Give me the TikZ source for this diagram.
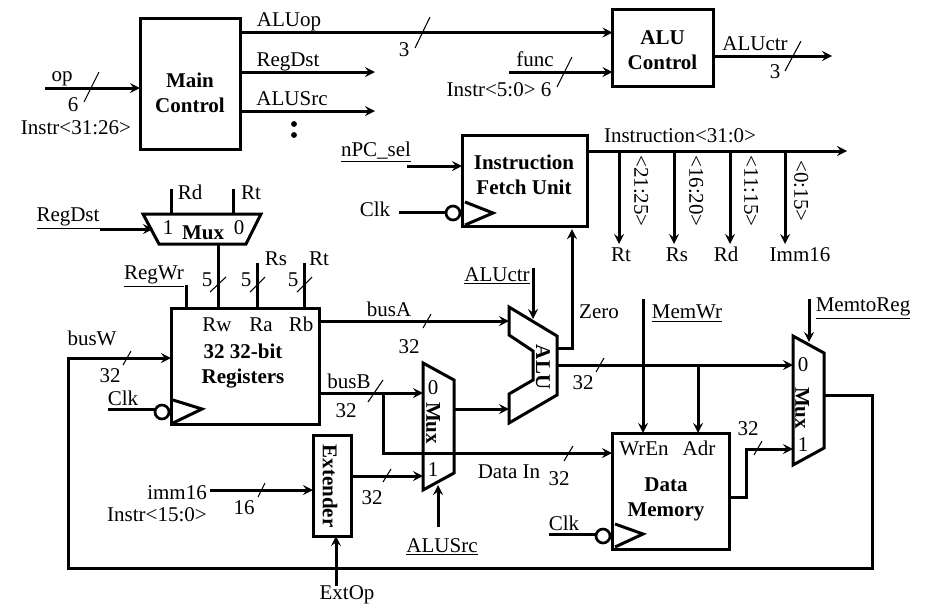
\documentclass[tikz,border=0pt]{standalone}
\usepackage{fontspec, tkz-euclide}
\setmainfont{Liberation Serif}
\tikzset{>=stealth}
\tikzset{wire/.style={line width=2.25pt, line join=miter},
  tick/.style={line width=0.8pt},
  lbl/.style={inner sep=0pt, outer sep=0pt, font=\fontsize{15.75}{18.75}\selectfont, text height=11.5pt, text depth=1.5pt},
  stacklbl/.style={inner sep=0pt, outer sep=0pt, font=\fontsize{15.75}{18.75}\selectfont, align=center},
  boldlbl/.style={stacklbl, font=\fontsize{15.75}{18.75}\selectfont\bfseries},
  blockbox/.style={draw, line width=2.25pt, inner sep=0pt, outer sep=0pt},
  bubble/.style={draw, circle, line width=2pt, inner sep=0pt, outer sep=0pt, minimum size=10.5pt}}

\begin{document}
\begin{tikzpicture}[x=0.75pt, y=-0.75pt]
\useasboundingbox (0,0) rectangle (930,604);
% blocks
\node[blockbox, minimum width=75pt, minimum height=98.25pt] (main) at (190,83.5) {};
\node[blockbox, minimum width=75.4pt, minimum height=57.4pt] (aluctl) at (662.75,48.25) {};
\node[blockbox, minimum width=93.75pt, minimum height=67.9pt] (ifu) at (524.5,181.25) {};
\node[blockbox, minimum width=111pt, minimum height=87pt] (regs) at (245,366) {};
\node[blockbox, minimum width=28.5pt, minimum height=75.75pt] (ext) at (332,485.5) {};
\node[blockbox, minimum width=87.75pt, minimum height=87pt] (dmem) at (670.5,491) {};
\node[boldlbl] (mainT) at (190,93) {Main\\Control};
\node[boldlbl] (aluctlT) at (662.5,50) {ALU\\Control};
\node[boldlbl] (ifuT) at (524,175) {Instruction\\Fetch Unit};
\node[boldlbl] (regsT) at (243,366) {32 32-bit\\Registers};
\node[boldlbl, rotate=-90] (extT) at (330,486) {Extender};
\node[boldlbl] (dmemT) at (666,499) {Data\\Memory};
% muxes and ALU
\tkzDefPoints{143/214/A, 261/214/B, 246/244/C, 159/244/D}
\tkzDrawPolygon[wire](A,B,C,D)
\tkzDefPoints{423/363/E, 454/380/F, 454/473/G, 423/490/H}
\tkzDrawPolygon[wire](E,F,G,H)
\tkzDefPoints{793/336/I, 824/353/J, 824/448/K, 793/465/L}
\tkzDrawPolygon[wire](I,J,K,L)
\tkzDefPoints{509/307/P, 557/336/Q, 557/395/R, 509/423/S, 509/394/T, 533/380/U, 533/351/V, 509/335/W}
\tkzDrawPolygon[wire](P,Q,R,S,T,U,V,W)
\node[boldlbl] (mux1T) at (203,233) {Mux};
\node[boldlbl, rotate=-90] (mux2T) at (433,423) {Mux};
\node[boldlbl, rotate=-90] (mux3T) at (802,408) {Mux};
\node[boldlbl, rotate=-90] (aluT) at (543,367) {ALU};
\node[lbl] (m1one) at (168,228) {1};
\node[lbl] (m1zero) at (239,228) {0};
\node[lbl] (m2zero) at (433,388) {0};
\node[lbl] (m2one) at (433,470) {1};
\node[lbl] (m3zero) at (803,365) {0};
\node[lbl] (m3one) at (803,445) {1};
% free ends of the wires
\tkzDefPoints{45/88/opin, 430/32.5/aluop, 375/72/regdstout, 375/111/alusrcout}
\tkzDefPoints{509/72/funcin, 832/56/aluctrout, 407/166/npcin, 847/151/instrout}
\tkzDefPoints{619/151/tapa, 619/244/enda, 674/151/tapb, 674/244/endb}
\tkzDefPoints{730/151/tapc, 730/244/endc, 785/151/tapd, 785/244/endd}
\tkzDefPoints{557/348/zeroa, 572/348/zerob, 533/268/aluctrin, 533/319/aluctrtip}
\tkzDefPoints{100/229/regdstin, 153/229/regdsttip, 171/189/rdtop, 171/214/rdend, 233/189/rttop, 233/214/rtend}
\tkzDefPoints{218/244/muxout, 257/263/ratop, 304/263/rbtop, 186/285/wrtop}
\tkzDefPoints{509/321/busatip, 423/393/busbtip, 383/393/busbtap, 383/453/busbdown}
\tkzDefPoints{454/409/mux2out, 509/409/alubtip, 351/476/extout, 423/476/exttip}
\tkzDefPoints{210/490/immin, 438/527/alusrcin, 438/485/alusrctip, 336/586/extopin}
\tkzDefPoints{557/365/aluout, 793/365/aluouttip, 698/365/adrtap, 643/299/memwrin}
\tkzDefPoints{729/497/dout, 746/497/dbend, 746/449/dup, 793/449/dtip}
\tkzDefPoints{809/299/m2rin, 809/342/m2rtip, 825/395/m3out, 872/395/wb, 872/568/wc, 68/568/wd, 68/358/we}
\tkzDefPoints{399/212/clka, 108/409/clkb, 549/534/clkc}
% wires
\draw[wire,->] (opin) -- (main.west |- opin);
\draw[wire,->] (main.east |- aluop) -- (aluctl.west |- aluop);
\draw[wire,->] (main.east |- regdstout) -- (regdstout);
\draw[wire,->] (main.east |- alusrcout) -- (alusrcout);
\draw[wire,->] (funcin) -- (aluctl.west |- funcin);
\draw[wire,->] (aluctl.east |- aluctrout) -- (aluctrout);
\draw[wire,->] (npcin) -- (ifu.west |- npcin);
\draw[wire,->] (ifu.east |- instrout) -- (instrout);
\draw[wire,->] (tapa) -- (enda);
\draw[wire,->] (tapb) -- (endb);
\draw[wire,->] (tapc) -- (endc);
\draw[wire,->] (tapd) -- (endd);
\draw[wire,->,shorten >=2pt] (zeroa) -- (zerob) -- (ifu.south -| zerob);
\draw[wire,->] (aluctrin) -- (aluctrtip);
\draw[wire,->] (regdstin) -- (regdsttip);
\draw[wire] (rdtop) -- (rdend);
\draw[wire] (rttop) -- (rtend);
\draw[wire] (muxout) -- (regs.north -| muxout);
\draw[wire] (ratop) -- (regs.north -| ratop);
\draw[wire] (rbtop) -- (regs.north -| rbtop);
\draw[wire] (wrtop) -- (regs.north -| wrtop);
\draw[wire,->] (regs.east |- busatip) -- (busatip);
\draw[wire,->] (regs.east |- busbtip) -- (busbtip);
\draw[wire,->] (busbtap) -- (busbdown) -- (dmem.west |- busbdown);
\draw[wire,->] (mux2out) -- (alubtip);
\draw[wire,->] (ext.east |- extout) -- (exttip);
\draw[wire,->] (immin) -- (ext.west |- immin);
\draw[wire,->] (alusrcin) -- (alusrctip);
\draw[wire,->] (extopin) -- (ext.south -| extopin);
\draw[wire,->] (aluout) -- (aluouttip);
\draw[wire,->] (adrtap) -- (dmem.north -| adrtap);
\draw[wire,->] (memwrin) -- (dmem.north -| memwrin);
\draw[wire,->] (dout) -- (dbend) -- (dup) -- (dtip);
\draw[wire,->] (m2rin) -- (m2rtip);
\draw[wire,->] (m3out) -- (wb) -- (wc) -- (wd) -- (we) -- (regs.west |- we);
% clocks
\node[bubble] (ifuB) at (453,213) {};
\node[bubble] (regsB) at (162,412) {};
\node[bubble] (dmemB) at (603,536) {};
\draw[wire] (clka) -- (ifuB.west |- clka);
\draw[wire] (clkb) -- (regsB.west |- clkb);
\draw[wire] (clkc) -- (dmemB.west |- clkc);
\draw[wire] (465,202) -- (493,213) -- (465,225);
\draw[wire] (173,400) -- (202,409) -- (173,423);
\draw[wire] (615,524) -- (643,534) -- (615,547);
% bus ticks
\foreach \a/\b/\c/\d in {84/102/99/72, 415/48/430/17, 557/87/572/57, 785/71/801/41,
  210/292/226/277, 250/292/265/277, 297/292/312/277, 423/328/431/314, 123/365/131/351,
  368/402/383/380, 258/497/265/483, 383/482/391/469, 564/461/573/446, 596/372/604/358, 754/455/762/441}
  \draw[tick] (\a,\b) -- (\c,\d);
\fill (294,124) circle (2.2pt);
\fill (294,135) circle (2.2pt);
% labels
\node[lbl] (opL) at (62,75) {op};
\node[lbl] (opW) at (73,105) {6};
\node[lbl] (opI) at (76,128) {Instr<31:26>};
\node[lbl] (aluopL) at (289,20) {ALUop};
\node[lbl] (aluopW) at (404,50) {3};
\node[lbl] (regdstL) at (288,60) {RegDst};
\node[lbl] (alusrcL) at (292,99) {ALUSrc};
\node[lbl] (funcL) at (535,60) {func};
\node[lbl] (funcI) at (499,90) {Instr<5:0> 6};
\node[lbl] (aluctrL) at (755,44) {ALUctr};
\node[lbl] (aluctrW) at (775,72) {3};
\node[lbl] (npcL) at (376,150) {\underline{nPC\_sel}};
\node[lbl] (instrL) at (680,136) {Instruction<31:0>};
\node[lbl, rotate=-90] (fa) at (641,191) {<21:25>};
\node[lbl, rotate=-90] (fb) at (696,191) {<16:20>};
\node[lbl, rotate=-90] (fc) at (751,191) {<11:15>};
\node[lbl, rotate=-90] (fd) at (801,191) {<0:15>};
\node[lbl] (ra) at (621,255) {Rt};
\node[lbl] (rb) at (677,255) {Rs};
\node[lbl] (rc) at (726,255) {Rd};
\node[lbl] (rd) at (800,255) {Imm16};
\node[lbl] (clkifu) at (375,210) {Clk};
\node[lbl] (regdstU) at (68,215) {\underline{RegDst}};
\node[lbl] (rdL) at (190,193) {Rd};
\node[lbl] (rtL) at (251,193) {Rt};
\node[lbl] (regwrL) at (154,273) {\underline{RegWr}};
\node[lbl] (rsT) at (276,259) {Rs};
\node[lbl] (rtT) at (319,259) {Rt};
\node[lbl] (w5a) at (207,280) {5};
\node[lbl] (w5b) at (246,280) {5};
\node[lbl] (w5c) at (293,280) {5};
\node[lbl] (rwP) at (217,325) {Rw};
\node[lbl] (raP) at (261,325) {Ra};
\node[lbl] (rbP) at (301,325) {Rb};
\node[lbl] (aluctrU) at (497,275) {\underline{ALUctr}};
\node[lbl] (zeroL) at (599,312) {Zero};
\node[lbl] (buswL) at (92,339) {busW};
\node[lbl] (busw32) at (110,376) {32};
\node[lbl] (clkregs) at (123,399) {Clk};
\node[lbl] (busaL) at (389,310) {busA};
\node[lbl] (busa32) at (409,347) {32};
\node[lbl] (busbL) at (349,382) {busB};
\node[lbl] (busb32) at (346,411) {32};
\node[lbl] (immL) at (177,493) {imm16};
\node[lbl] (immI) at (157,515) {Instr<15:0>};
\node[lbl] (imm16) at (244,508) {16};
\node[lbl] (ext32) at (372,498) {32};
\node[lbl] (alusrcU) at (442,546) {\underline{ALUSrc}};
\node[lbl] (extop) at (347,592.5) {ExtOp};
\node[lbl] (dataIn) at (509,472) {Data In};
\node[lbl] (data32) at (559,479) {32};
\node[lbl] (alu32) at (583,383) {32};
\node[lbl] (memwrU) at (687,312) {\underline{MemWr}};
\node[lbl] (wrenP) at (644,449) {WrEn};
\node[lbl] (adrP) at (699,449) {Adr};
\node[lbl] (clkmem) at (564,524) {Clk};
\node[lbl] (dm32) at (748,429) {32};
\node[lbl] (m2rU) at (863,305) {\underline{MemtoReg}};
\end{tikzpicture}
\end{document}
